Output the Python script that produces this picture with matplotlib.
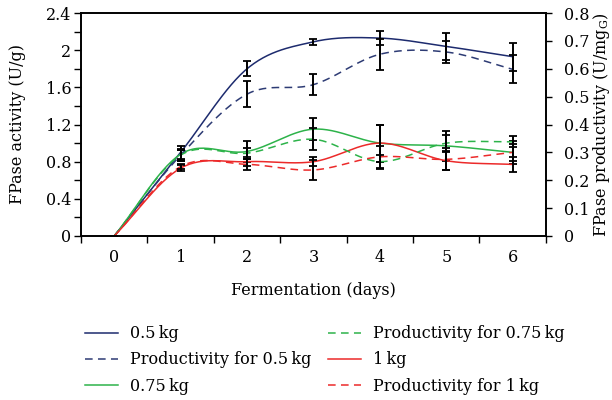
import numpy as np
import matplotlib.pyplot as plt
from matplotlib.ticker import MultipleLocator, FixedLocator, NullFormatter

plt.rcParams['font.family'] = ['DejaVu Serif']
plt.rcParams['mathtext.fontset'] = 'dejavuserif'
plt.rcParams['font.size'] = 11.5

# Fermentation time (days)
days = [0, 1, 2, 3, 4, 5, 6]

# FPase activity (U/g), left axis
act_05 = [0, 0.90, 1.80, 2.09, 2.13, 2.04, 1.93]
act_05_err = [0, 0.07, 0.08, 0.03, 0.075, 0.15, 0.15]
act_075 = [0, 0.88, 0.91, 1.15, 1.00, 0.97, 0.90]
act_075_err = [0, 0.06, 0.11, 0.12, 0.20, 0.16, 0.12]
act_1 = [0, 0.73, 0.80, 0.80, 1.00, 0.81, 0.77]
act_1_err = [0, 0.03, 0.05, 0.05, 0.20, 0.10, 0.08]

# FPase productivity (U/mgG), right axis
prod_05 = [0, 0.29, 0.509, 0.543, 0.652, 0.66, 0.598]
prod_05_err = [0, 0.02, 0.047, 0.038, 0.056, 0.04, 0.05]
prod_075 = [0, 0.29, 0.297, 0.347, 0.267, 0.333, 0.338]
prod_075_err = [0, 0.02, 0.02, 0.04, 0.025, 0.03, 0.02]
prod_1 = [0, 0.249, 0.257, 0.237, 0.284, 0.275, 0.30]
prod_1_err = [0, 0.01, 0.02, 0.035, 0.04, 0.04, 0.03]

NAVY = '#1d2b6e'
NAVY2 = '#2d3b74'
GREEN = '#2db34a'
RED = '#ec2a2a'
DASH = (0, (5, 3.5))


def catmull_rom(x, y, n=30):
    """Smooth curve through the points (Catmull-Rom spline)."""
    p = np.column_stack([x, y]).astype(float)
    p = np.vstack([2 * p[0] - p[1], p, 2 * p[-1] - p[-2]])
    t = np.linspace(0, 1, n)[:, None]
    out = []
    for i in range(1, len(p) - 2):
        p0, p1, p2, p3 = p[i - 1], p[i], p[i + 1], p[i + 2]
        seg = 0.5 * ((2 * p1) + (-p0 + p2) * t
                     + (2 * p0 - 5 * p1 + 4 * p2 - p3) * t ** 2
                     + (-p0 + 3 * p1 - 3 * p2 + p3) * t ** 3)
        out.append(seg if i == 1 else seg[1:])
    out = np.vstack(out)
    return out[:, 0], out[:, 1]


fig = plt.figure(figsize=(6.12, 4.0), dpi=100)
ax = fig.add_axes([0.1324, 0.41, 0.7596, 0.5575])
ax2 = ax.twinx()

kg = '\u2009kg'
series = [
    (ax, act_05, act_05_err, NAVY, '-', '0.5' + kg),
    (ax2, prod_05, prod_05_err, NAVY2, DASH, 'Productivity for 0.5' + kg),
    (ax, act_075, act_075_err, GREEN, '-', '0.75' + kg),
    (ax2, prod_075, prod_075_err, GREEN, DASH, 'Productivity for 0.75' + kg),
    (ax, act_1, act_1_err, RED, '-', '1' + kg),
    (ax2, prod_1, prod_1_err, RED, DASH, 'Productivity for 1' + kg),
]

handles = []
for a, vals, err, col, ls, lab in series:
    xs, ys = catmull_rom(days, vals)
    h, = a.plot(xs, ys, color=col, ls=ls, lw=1.1, label=lab)
    a.errorbar(days, vals, yerr=err, fmt='none', ecolor='black',
               elinewidth=1.4, capsize=3, capthick=1.3)
    handles.append(h)

ax.set_xlim(-0.5, 6.5)
ax.set_ylim(0, 2.4)
ax2.set_ylim(0, 0.8)

# x: tick marks between days, labels on the days
ax.xaxis.set_major_locator(FixedLocator(np.arange(-0.5, 7, 1)))
ax.xaxis.set_major_formatter(NullFormatter())
ax.xaxis.set_minor_locator(FixedLocator(days))
ax.set_xticklabels([str(d) for d in days], minor=True)
ax.tick_params(axis='x', which='major', direction='out', length=5, width=1)
ax.tick_params(axis='x', which='minor', length=0, pad=9)

ax.set_yticks([0, 0.4, 0.8, 1.2, 1.6, 2.0, 2.4])
ax.set_yticklabels(['0', '0.4', '0.8', '1.2', '1.6', '2', '2.4'])
ax.yaxis.set_minor_locator(MultipleLocator(0.2))
ax.tick_params(axis='y', which='both', direction='out', length=5, width=1,
               pad=2)

ax2.set_yticks(np.arange(0, 0.81, 0.1))
ax2.set_yticklabels(['0', '0.1', '0.2', '0.3', '0.4', '0.5', '0.6', '0.7', '0.8'])
ax2.tick_params(axis='y', direction='out', length=4, width=1, pad=9)

for a in (ax, ax2):
    for s in a.spines.values():
        s.set_linewidth(1.2)

ax.set_xlabel('Fermentation (days)')
ax.set_ylabel('FPase activity (U/g)')
ax2.set_ylabel('FPase productivity (U/mg$_\\mathrm{G}$)')
ax.xaxis.set_label_coords(0.5, -0.205)
ax.yaxis.set_label_coords(-0.118, 0.5)
ax2.yaxis.set_label_coords(1.097, 0.5)

fig.legend(handles=handles, ncol=2, loc='upper left',
           bbox_to_anchor=(0.115, 0.2225), frameon=False,
           handlelength=2.1, handletextpad=0.75, columnspacing=1.0,
           labelspacing=0.57)

fig.savefig('out.png', dpi=100)
